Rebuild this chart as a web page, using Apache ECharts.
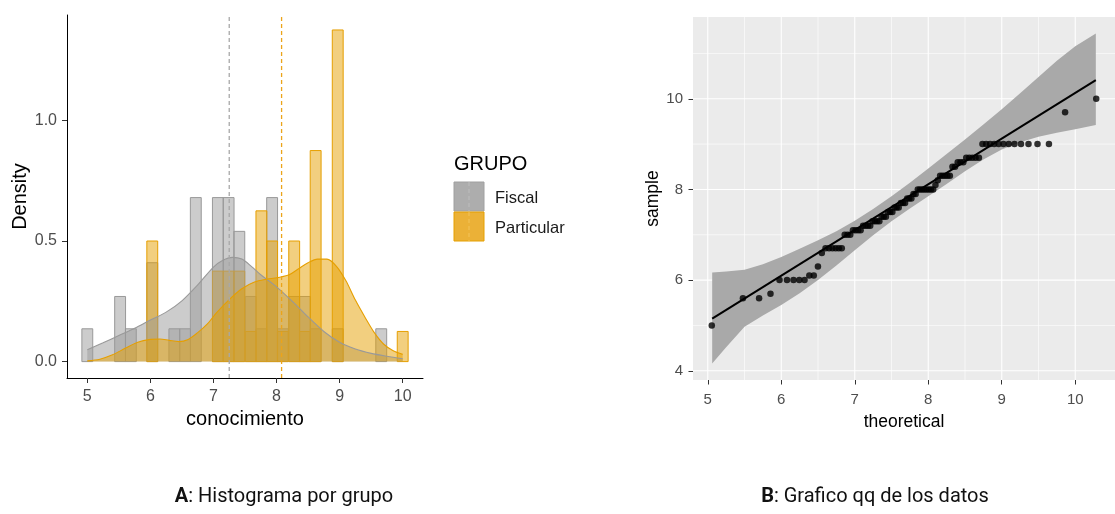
<!DOCTYPE html>
<html>
<head>
    <meta charset="utf-8">
    <title>Histograma y grafico qq</title>
    <style>
        html, body {
            margin: 0;
            width: 100%;
            height: 100%;
            background: #fff;
        }
        #main {
            width: 1115px;
            height: 514px;
        }
    </style>
</head>
<body>
<div id="main"></div>
<script src="https://cdn.jsdelivr.net/npm/echarts@6/dist/echarts.min.js"></script>
<script type="text/javascript">
  // ---- panel A: histogram + density by group ----
  var binCenters = [5.00, 5.17, 5.34, 5.52, 5.69, 5.86, 6.03, 6.21, 6.38, 6.55,
                    6.72, 6.90, 7.07, 7.24, 7.41, 7.59, 7.76, 7.93, 8.10, 8.28,
                    8.45, 8.62, 8.79, 8.97, 9.14, 9.31, 9.48, 9.66, 9.83, 10.00];
  var binWidth = 0.1724;
  var fiscalDensity = [0.136, 0, 0, 0.27, 0.136, 0, 0.41, 0, 0.136, 0.136,
                       0.68, 0, 0.68, 0.68, 0.54, 0.27, 0.136, 0.68, 0.136, 0.27,
                       0.27, 0.136, 0, 0.136, 0, 0, 0, 0.136, 0, 0];
  var particularDensity = [0, 0, 0, 0, 0, 0, 0.5, 0, 0, 0,
                           0, 0, 0.375, 0.375, 0.375, 0.125, 0.625, 0.5, 0.125, 0.5,
                           0.125, 0.875, 0, 1.375, 0, 0, 0, 0, 0, 0.125];

  var fiscalCurveX = [5.0, 5.25, 5.5, 5.75, 6.0, 6.25, 6.5, 6.75, 7.0, 7.15, 7.3, 7.45,
                      7.6, 7.75, 8.0, 8.25, 8.5, 8.75, 9.0, 9.25, 9.5, 9.75, 10.0];
  var fiscalCurveY = [0.049, 0.078, 0.108, 0.138, 0.172, 0.205, 0.252, 0.318, 0.392, 0.42, 0.432, 0.425,
                      0.395, 0.36, 0.31, 0.25, 0.185, 0.125, 0.08, 0.052, 0.034, 0.022, 0.012];
  var particularCurveX = [5.0, 5.2, 5.4, 5.6, 5.8, 6.0, 6.15, 6.3, 6.45, 6.6, 6.75, 6.9, 7.05,
                          7.25, 7.45, 7.65, 7.85, 8.05, 8.2, 8.35, 8.5, 8.65, 8.8, 8.95,
                          9.1, 9.25, 9.4, 9.55, 9.7, 9.85, 10.0];
  var particularCurveY = [0.003, 0.01, 0.028, 0.055, 0.08, 0.092, 0.094, 0.088, 0.083, 0.092, 0.12, 0.155, 0.203,
                          0.257, 0.302, 0.33, 0.342, 0.35, 0.36, 0.385, 0.41, 0.425, 0.425, 0.395,
                          0.335, 0.255, 0.185, 0.12, 0.072, 0.045, 0.03];
  var groupMeans = [7.25, 8.08];
  var groupNames = ['Fiscal', 'Particular'];
  var histXTicks = [5, 6, 7, 8, 9, 10];
  var histYTicks = [0, 0.5, 1.0];

  // ---- panel B: qq plot ----
  var qqSample = [5.0, 5.6, 5.6, 5.7, 6.0, 6.0, 6.0, 6.0, 6.0, 6.1,
                  6.1, 6.3, 6.6, 6.7, 6.7, 6.7, 6.7, 6.7, 6.7, 7.0,
                  7.0, 7.0, 7.1, 7.1, 7.1, 7.1, 7.2, 7.2, 7.2, 7.2,
                  7.3, 7.3, 7.3, 7.3, 7.4, 7.4, 7.4, 7.5, 7.5, 7.5,
                  7.6, 7.6, 7.6, 7.7, 7.7, 7.7, 7.8, 7.8, 7.8, 7.9,
                  7.9, 8.0, 8.0, 8.0, 8.0, 8.0, 8.0, 8.0, 8.0, 8.1,
                  8.2, 8.3, 8.3, 8.3, 8.3, 8.3, 8.5, 8.5, 8.6, 8.6,
                  8.6, 8.7, 8.7, 8.7, 8.7, 8.7, 9.0, 9.0, 9.0, 9.0,
                  9.0, 9.0, 9.0, 9.0, 9.0, 9.0, 9.0, 9.0, 9.7, 10.0];
  var theoMean = 7.67;
  var theoSd = 1.03;
  var qqLineX = [5.06, 10.28];
  var qqLineY = [5.15, 10.41];
  var bandX = [5.06, 5.25, 5.5, 5.75, 6.0, 6.25, 6.5, 6.75, 7.0, 7.25, 7.5,
               7.75, 8.0, 8.25, 8.5, 8.75, 9.0, 9.25, 9.5, 9.75, 10.0, 10.28];
  var bandUpper = [6.17, 6.19, 6.23, 6.35, 6.51, 6.69, 6.88, 7.08, 7.31, 7.57, 7.85,
                   8.15, 8.46, 8.78, 9.10, 9.43, 9.77, 10.12, 10.48, 10.84, 11.16, 11.44];
  var bandLower = [4.16, 4.52, 4.97, 5.22, 5.45, 5.71, 6.00, 6.32, 6.66, 6.99, 7.30,
                   7.58, 7.85, 8.12, 8.40, 8.66, 8.88, 9.04, 9.16, 9.25, 9.33, 9.42];
  var qqXMajor = [5, 6, 7, 8, 9, 10];
  var qqXMinor = [5.5, 6.5, 7.5, 8.5, 9.5];
  var qqYMajor = [4, 6, 8, 10];
  var qqYMinor = [5, 7, 9, 11];

  var FONT = '"Liberation Sans", Arial, sans-serif';
  var GRAY = '#999999', ORANGE = '#E69F00';

  // inverse normal cdf (Acklam)
  function qnorm(p) {
    var a = [-3.969683028665376e+01, 2.209460984245205e+02, -2.759285104469687e+02,
             1.383577518672690e+02, -3.066479806614716e+01, 2.506628277459239e+00];
    var b = [-5.447609879822406e+01, 1.615858368580409e+02, -1.556989798598866e+02,
             6.680131188771972e+01, -1.328068155288572e+01];
    var c = [-7.784894002430293e-03, -3.223964580411365e-01, -2.400758277161838e+00,
             -2.549732539343734e+00, 4.374664141464968e+00, 2.938163982698783e+00];
    var d = [7.784695709041462e-03, 3.224671290700398e-01, 2.445134137142996e+00,
             3.754408661907416e+00];
    var pl = 0.02425, q, r;
    if (p < pl) {
      q = Math.sqrt(-2 * Math.log(p));
      return (((((c[0]*q+c[1])*q+c[2])*q+c[3])*q+c[4])*q+c[5]) / ((((d[0]*q+d[1])*q+d[2])*q+d[3])*q+1);
    }
    if (p > 1 - pl) {
      q = Math.sqrt(-2 * Math.log(1 - p));
      return -(((((c[0]*q+c[1])*q+c[2])*q+c[3])*q+c[4])*q+c[5]) / ((((d[0]*q+d[1])*q+d[2])*q+d[3])*q+1);
    }
    q = p - 0.5; r = q * q;
    return (((((a[0]*r+a[1])*r+a[2])*r+a[3])*r+a[4])*r+a[5])*q / (((((b[0]*r+b[1])*r+b[2])*r+b[3])*r+b[4])*r+1);
  }

  var n = qqSample.length;
  var qqPoints = qqSample.map(function (s, i) {
    return [theoMean + theoSd * qnorm((i + 1 - 0.5) / n), s];
  });

  function zipXY(xs, ys) {
    return xs.map(function (x, i) { return [x, ys[i]]; });
  }
  function histData(dens) {
    var out = [];
    binCenters.forEach(function (c, i) { if (dens[i] > 0) out.push([c, dens[i]]); });
    return out;
  }
  function histSeries(name, dens, fill, stroke) {
    return {
      name: name,
      type: 'custom',
      xAxisIndex: 0, yAxisIndex: 0,
      z: 2,
      silent: true,
      data: histData(dens),
      renderItem: function (params, api) {
        var c = api.value(0), h = api.value(1);
        var p0 = api.coord([c - binWidth / 2, h]);
        var p1 = api.coord([c + binWidth / 2, 0]);
        return {
          type: 'rect',
          shape: {x: p0[0], y: p0[1], width: p1[0] - p0[0], height: p1[1] - p0[1]},
          style: {fill: fill, stroke: stroke, lineWidth: 1}
        };
      }
    };
  }
  function densitySeries(name, xs, ys, fill, stroke) {
    return {
      name: name,
      type: 'line',
      xAxisIndex: 0, yAxisIndex: 0,
      z: 3,
      silent: true,
      smooth: 0.3,
      showSymbol: false,
      data: zipXY(xs, ys),
      itemStyle: {color: stroke},
      lineStyle: {color: stroke, width: 1.1},
      areaStyle: {color: fill, opacity: 1, origin: 'auto'}
    };
  }
  function vlineSeries(x, color) {
    return {
      type: 'line',
      xAxisIndex: 0, yAxisIndex: 0,
      z: 4,
      silent: true,
      showSymbol: false,
      data: [[x, -0.068], [x, 1.437]],
      itemStyle: {color: color},
      lineStyle: {color: color, width: 1.3, type: [4, 3]}
    };
  }

  var myChart = echarts.init(document.getElementById('main'), null, {renderer: 'canvas'});

  var option = {
    animation: false,
    backgroundColor: '#ffffff',
    textStyle: {fontFamily: FONT},
    grid: [
      {left: 67, top: 15, width: 356, height: 363},
      {left: 693, top: 17, width: 432, height: 363, show: true, backgroundColor: '#ebebeb', borderWidth: 0}
    ],
    xAxis: [
      {
        gridIndex: 0, type: 'value', min: 4.678, max: 10.322,
        name: 'conocimiento', nameLocation: 'middle', nameGap: 29,
        nameTextStyle: {fontSize: 20, color: '#000', fontFamily: FONT},
        axisLine: {show: true, onZero: false, lineStyle: {color: '#000', width: 1}},
        axisTick: {show: true, customValues: histXTicks, length: 5, lineStyle: {color: '#333'}},
        axisLabel: {customValues: histXTicks, fontSize: 16, color: '#4d4d4d', margin: 11},
        splitLine: {show: false}
      },
      {
        gridIndex: 1, type: 'value', min: 4.799, max: 10.541,
        name: 'theoretical', nameLocation: 'middle', nameGap: 33,
        nameTextStyle: {fontSize: 17.5, color: '#000', fontFamily: FONT},
        axisLine: {show: false, onZero: false},
        axisTick: {show: true, customValues: qqXMajor, length: 4.5, lineStyle: {color: '#333'}},
        axisLabel: {customValues: qqXMajor, fontSize: 15, color: '#4d4d4d', margin: 12},
        splitLine: {show: false}
      }
    ],
    yAxis: [
      {
        gridIndex: 0, type: 'value', min: -0.068, max: 1.437,
        name: 'Density', nameLocation: 'middle', nameGap: 37,
        nameTextStyle: {fontSize: 20, color: '#000', fontFamily: FONT},
        axisLine: {show: true, onZero: false, lineStyle: {color: '#000', width: 1}},
        axisTick: {show: true, customValues: histYTicks, length: 5, lineStyle: {color: '#333'}},
        axisLabel: {
          customValues: histYTicks, fontSize: 16, color: '#4d4d4d', margin: 10,
          formatter: function (v) { return v.toFixed(1); }
        },
        splitLine: {show: false}
      },
      {
        gridIndex: 1, type: 'value', min: 3.796, max: 11.804,
        name: 'sample', nameLocation: 'middle', nameGap: 24,
        nameTextStyle: {fontSize: 17.5, color: '#000', fontFamily: FONT},
        axisLine: {show: false, onZero: false},
        axisTick: {show: true, customValues: qqYMajor, length: 4.5, lineStyle: {color: '#333'}},
        axisLabel: {customValues: qqYMajor, fontSize: 15, color: '#4d4d4d', margin: 10},
        splitLine: {show: false}
      }
    ],
    series: [
      histSeries('Fiscal', fiscalDensity, 'rgba(153,153,153,0.5)', GRAY),
      histSeries('Particular', particularDensity, 'rgba(230,159,0,0.5)', ORANGE),
      densitySeries('Fiscal', fiscalCurveX, fiscalCurveY, 'rgba(153,153,153,0.5)', GRAY),
      densitySeries('Particular', particularCurveX, particularCurveY, 'rgba(230,159,0,0.5)', ORANGE),
      vlineSeries(groupMeans[0], '#a8a8a8'),
      vlineSeries(groupMeans[1], '#EBA41A'),

      // qq panel grid lines
      {
        type: 'custom',
        xAxisIndex: 1, yAxisIndex: 1,
        z: 1,
        silent: true,
        data: [[qqXMajor[0], qqYMajor[0]]],
        renderItem: function (params, api) {
          var kids = [];
          function vline(x, w) {
            var a = api.coord([x, 3.796]), b = api.coord([x, 11.804]);
            kids.push({type: 'line', shape: {x1: a[0], y1: a[1], x2: b[0], y2: b[1]}, style: {stroke: '#fff', lineWidth: w}});
          }
          function hline(y, w) {
            var a = api.coord([4.799, y]), b = api.coord([10.541, y]);
            kids.push({type: 'line', shape: {x1: a[0], y1: a[1], x2: b[0], y2: b[1]}, style: {stroke: '#fff', lineWidth: w}});
          }
          qqXMinor.forEach(function (v) { vline(v, 0.6); });
          qqYMinor.forEach(function (v) { hline(v, 0.6); });
          qqXMajor.forEach(function (v) { vline(v, 1.1); });
          qqYMajor.forEach(function (v) { hline(v, 1.1); });
          return {type: 'group', children: kids};
        }
      },
      // confidence band
      {
        type: 'custom',
        xAxisIndex: 1, yAxisIndex: 1,
        z: 2,
        silent: true,
        data: [[bandX[0], bandLower[0]]],
        renderItem: function (params, api) {
          var pts = [];
          bandX.forEach(function (x, i) { pts.push(api.coord([x, bandUpper[i]])); });
          for (var i = bandX.length - 1; i >= 0; i--) pts.push(api.coord([bandX[i], bandLower[i]]));
          return {type: 'polygon', shape: {points: pts}, style: {fill: '#a9a9a9'}};
        }
      },
      {
        type: 'line',
        xAxisIndex: 1, yAxisIndex: 1,
        z: 3,
        silent: true,
        showSymbol: false,
        data: zipXY(qqLineX, qqLineY),
        itemStyle: {color: '#000'},
        lineStyle: {color: '#000', width: 2}
      },
      {
        type: 'scatter',
        xAxisIndex: 1, yAxisIndex: 1,
        z: 4,
        silent: true,
        symbolSize: 6.5,
        itemStyle: {color: '#000'},
        data: qqPoints
      }
    ],
    graphic: [
      {type: 'text', x: 454, y: 164, style: {text: 'GRUPO', fontSize: 20, fontFamily: FONT, fill: '#000', verticalAlign: 'middle'}},
      {type: 'rect', shape: {x: 454, y: 182, width: 30, height: 29}, style: {fill: '#adadad', stroke: '#a0a0a0', lineWidth: 1}},
      {type: 'line', shape: {x1: 469, y1: 182, x2: 469, y2: 211}, style: {stroke: '#bdbdbd', lineWidth: 1, lineDash: [4, 3]}},
      {type: 'rect', shape: {x: 454, y: 212, width: 30, height: 29}, style: {fill: '#ebb137', stroke: '#e6a000', lineWidth: 1}},
      {type: 'line', shape: {x1: 469, y1: 212, x2: 469, y2: 241}, style: {stroke: '#f3c35a', lineWidth: 1, lineDash: [4, 3]}},
      {type: 'text', x: 495, y: 198, style: {text: groupNames[0], fontSize: 16.5, fontFamily: FONT, fill: '#1a1a1a', verticalAlign: 'middle'}},
      {type: 'text', x: 495, y: 228, style: {text: groupNames[1], fontSize: 16.5, fontFamily: FONT, fill: '#1a1a1a', verticalAlign: 'middle'}},
      {
        type: 'text', x: 284, y: 497,
        style: {
          text: '{b|A}: Histograma por grupo', fontSize: 20, fontFamily: 'Roboto, ' + FONT, fill: '#111',
          align: 'center', verticalAlign: 'middle',
          rich: {b: {fontWeight: 'bold', fontSize: 20, fontFamily: 'Roboto, ' + FONT}}
        }
      },
      {
        type: 'text', x: 875, y: 497,
        style: {
          text: '{b|B}: Grafico qq de los datos', fontSize: 20, fontFamily: 'Roboto, ' + FONT, fill: '#111',
          align: 'center', verticalAlign: 'middle',
          rich: {b: {fontWeight: 'bold', fontSize: 20, fontFamily: 'Roboto, ' + FONT}}
        }
      }
    ]
  };

  myChart.setOption(option);
</script>
</body>
</html>
